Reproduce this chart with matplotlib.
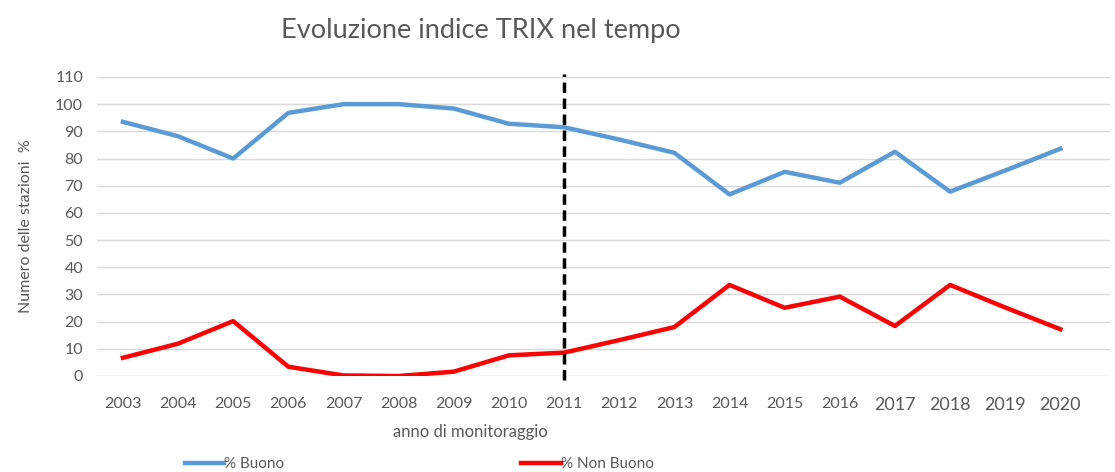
import matplotlib.pyplot as plt

# Dati
anni = [2003, 2004, 2005, 2006, 2007, 2008, 2009, 2010, 2011,
        2012, 2013, 2014, 2015, 2016, 2017, 2018, 2019, 2020]
buono = [93.5, 88.2, 80.0, 96.8, 100.0, 100.0, 98.4, 92.8, 91.5,
         87.0, 82.1, 66.8, 75.1, 71.1, 82.5, 67.8, 75.6, 83.6]
non_buono = [6.7, 11.9, 20.2, 3.4, 0.2, 0.0, 1.6, 7.6, 8.6,
             13.2, 18.0, 33.5, 25.1, 29.2, 18.4, 33.5, 25.2, 17.2]
anno_linea = 2011

plt.rcParams['font.family'] = ['Lato', 'DejaVu Sans']
grigio = '#595959'

fig = plt.figure(figsize=(11.15, 4.72), dpi=100)
ax = fig.add_axes([0.087, 0.2034, 0.9085, 0.6335])

x = list(range(len(anni)))
ax.plot(x, buono, color='#5B9BD5', lw=3.2, label='% Buono', solid_joinstyle='round')
ax.plot(x, non_buono, color='#FF0000', lw=3.2, label='% Non Buono', solid_joinstyle='round')

# linea tratteggiata sul 2011
i = anni.index(anno_linea)
ax.plot([i, i], [-1.5, 111], color='black', lw=2.5, ls=(0, (3, 1.6)), clip_on=False)

ax.set_ylim(0, 110)
ax.set_xlim(-0.47, 17.9)
ax.set_yticks(range(0, 111, 10))
ax.set_xticks(x)
ax.set_xticklabels([str(a) for a in anni])
for lab, a in zip(ax.get_xticklabels(), anni):
    lab.set_fontsize(13 if a >= 2017 else 11.5)
    lab.set_color(grigio)
ax.tick_params(axis='y', labelsize=11.5, labelcolor=grigio, length=0, pad=10)
ax.tick_params(axis='x', length=0, pad=15)
ax.grid(axis='y', color='#D9D9D9', lw=1)
ax.set_axisbelow(True)
for s in ax.spines.values():
    s.set_visible(False)

ax.set_ylabel('Numero delle stazioni  %', fontsize=11.5, color=grigio, labelpad=16)
fig.text(0.4215, 0.085, 'anno di monitoraggio', fontsize=12, color=grigio, ha='center', va='center')
fig.text(0.431, 0.936, 'Evoluzione indice TRIX nel tempo', fontsize=19.5, color=grigio, ha='center', va='center')

fig.legend(loc='center', bbox_to_anchor=(0.376, 0.017), ncol=2, frameon=False,
           handlelength=2.6, handletextpad=0.0, columnspacing=15.5, fontsize=11,
           labelcolor=grigio)

plt.savefig('out.png', dpi=100)
